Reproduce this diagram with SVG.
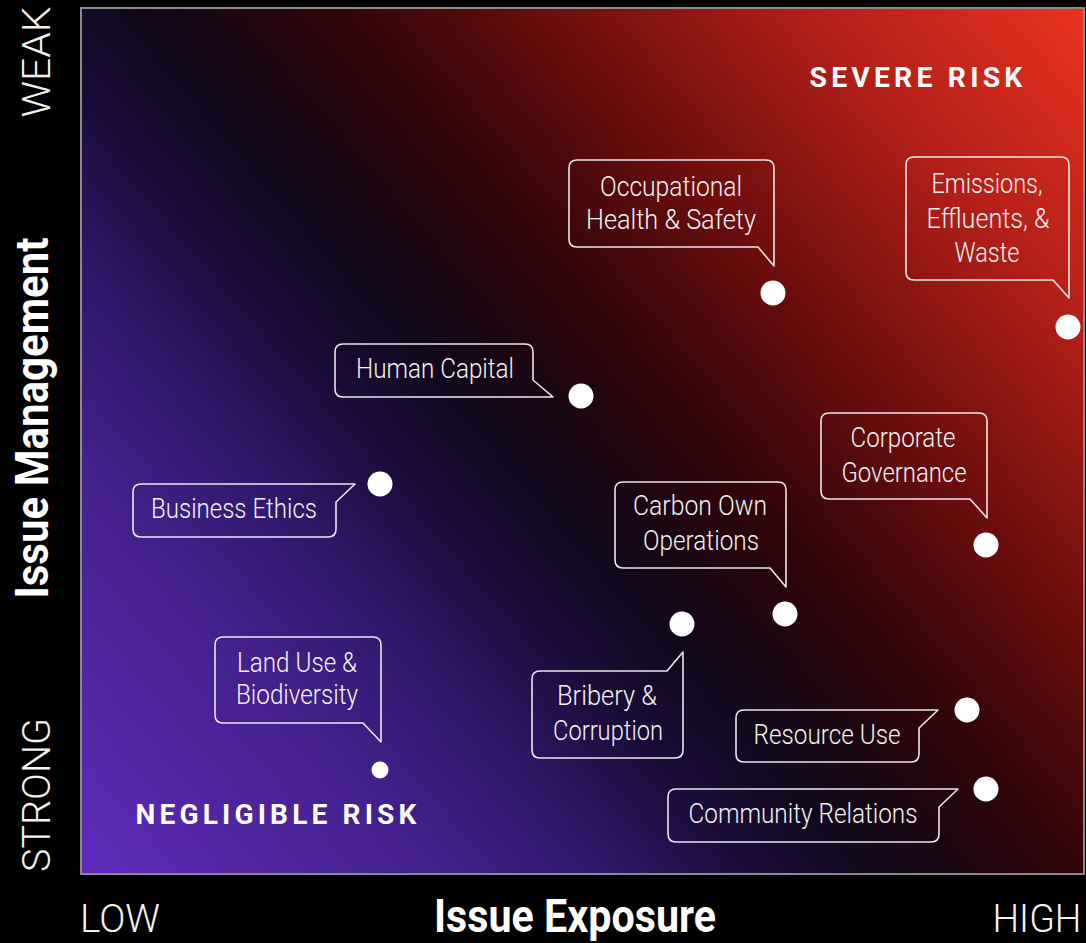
<svg xmlns="http://www.w3.org/2000/svg" width="1086" height="943" viewBox="0 0 1086 943">
<defs>
<linearGradient id="bg" gradientUnits="userSpaceOnUse" x1="81" y1="874" x2="1084" y2="8">
<stop offset="0" stop-color="#5f2bbb"/>
<stop offset="0.2" stop-color="#44208c"/>
<stop offset="0.3" stop-color="#30176a"/>
<stop offset="0.38" stop-color="#1c0c3a"/>
<stop offset="0.45" stop-color="#12081e"/>
<stop offset="0.5" stop-color="#1a0612"/>
<stop offset="0.57" stop-color="#300508"/>
<stop offset="0.68" stop-color="#660c0c"/>
<stop offset="0.84" stop-color="#b21f18"/>
<stop offset="1" stop-color="#ea3220"/>
</linearGradient>
<style>
.co{fill:none;stroke:#e8e8ec;stroke-width:1.6;stroke-linejoin:round}
.t{font-family:Roboto,"Liberation Sans",sans-serif;font-weight:300;font-size:28px;fill:#f2f2f2;text-anchor:middle}
.ax{font-family:Roboto,"Liberation Sans",sans-serif;font-weight:300;font-size:38px;fill:#f2f2f2;text-anchor:middle}
.bt{font-family:Roboto,"Liberation Sans",sans-serif;font-weight:700;font-size:46px;fill:#ffffff;text-anchor:middle}
.rk{font-family:Roboto,"Liberation Sans",sans-serif;font-weight:700;font-size:27px;letter-spacing:4px;fill:#ffffff;text-anchor:middle}
.dot{fill:#ffffff}
</style>
</defs>
<rect width="1086" height="943" fill="#000"/>
<rect id="plot" x="81" y="8" width="1003" height="866" fill="url(#bg)" stroke="#8a8a8a" stroke-width="2"/>

<g id="axes">
<text class="ax" transform="translate(50,62) rotate(-90)" textLength="111" lengthAdjust="spacingAndGlyphs">WEAK</text>
<text class="ax" transform="translate(50,795) rotate(-90)" textLength="154" lengthAdjust="spacingAndGlyphs">STRONG</text>
<text class="bt" transform="translate(48,418) rotate(-90)" textLength="361" lengthAdjust="spacingAndGlyphs">Issue Management</text>
<text class="ax" x="120" y="932" textLength="80" lengthAdjust="spacingAndGlyphs">LOW</text>
<text class="ax" x="1037" y="932" textLength="89" lengthAdjust="spacingAndGlyphs">HIGH</text>
<text class="bt" x="575" y="932" textLength="282" lengthAdjust="spacingAndGlyphs">Issue Exposure</text>
<text class="rk" x="918" y="87" textLength="217" lengthAdjust="spacingAndGlyphs">SEVERE RISK</text>
<text class="rk" x="278" y="824" textLength="285" lengthAdjust="spacingAndGlyphs">NEGLIGIBLE RISK</text>
</g>

<g id="connectors">
<path class="co" d="M577,160 H766 Q774,160 774,168 V266 L758,247 H577 Q569,247 569,239 V168 Q569,160 577,160 Z"/>
<path class="co" d="M914,157 H1061 Q1069,157 1069,165 V298 L1053,280 H914 Q906,280 906,272 V165 Q906,157 914,157 Z"/>
<path class="co" d="M343,344 H525 Q533,344 533,352 V380 L553,397 H343 Q335,397 335,389 V352 Q335,344 343,344 Z"/>
<path class="co" d="M141,484 H355 L336,502 V529 Q336,537 328,537 H141 Q133,537 133,529 V492 Q133,484 141,484 Z"/>
<path class="co" d="M223,637 H373 Q381,637 381,645 V742 L363,723 H223 Q215,723 215,715 V645 Q215,637 223,637 Z"/>
<path class="co" d="M623,482 H778 Q786,482 786,490 V587 L770,568 H623 Q615,568 615,560 V490 Q615,482 623,482 Z"/>
<path class="co" d="M829,413 H979 Q987,413 987,421 V518 L970,499 H829 Q821,499 821,491 V421 Q821,413 829,413 Z"/>
<path class="co" d="M540,671 H667 L683,652 V750 Q683,758 675,758 H540 Q532,758 532,750 V679 Q532,671 540,671 Z"/>
<path class="co" d="M744,710 H938 L919,728 V754 Q919,762 911,762 H744 Q736,762 736,754 V718 Q736,710 744,710 Z"/>
<path class="co" d="M676,789 H958 L939,807 V834 Q939,842 931,842 H676 Q668,842 668,834 V797 Q668,789 676,789 Z"/>
</g>

<g id="occupational">
<text class="t" x="671" y="196" textLength="142" lengthAdjust="spacingAndGlyphs">Occupational</text>
<text class="t" x="671" y="229" textLength="170" lengthAdjust="spacingAndGlyphs">Health &amp; Safety</text>
<circle class="dot" cx="773" cy="293" r="12.5"/>
</g>
<g id="emissions">
<text class="t" x="987" y="193" textLength="111" lengthAdjust="spacingAndGlyphs">Emissions,</text>
<text class="t" x="988" y="228" textLength="123" lengthAdjust="spacingAndGlyphs">Effluents, &amp;</text>
<text class="t" x="987" y="262" textLength="65" lengthAdjust="spacingAndGlyphs">Waste</text>
<circle class="dot" cx="1068" cy="327" r="12.5"/>
</g>
<g id="human-capital">
<text class="t" x="435" y="378" textLength="158" lengthAdjust="spacingAndGlyphs">Human Capital</text>
<circle class="dot" cx="581" cy="396" r="12.5"/>
</g>
<g id="business-ethics">
<text class="t" x="234" y="518" textLength="166" lengthAdjust="spacingAndGlyphs">Business Ethics</text>
<circle class="dot" cx="380" cy="484" r="12.5"/>
</g>
<g id="land-use">
<text class="t" x="297" y="672" textLength="120" lengthAdjust="spacingAndGlyphs">Land Use &amp;</text>
<text class="t" x="297" y="704" textLength="122" lengthAdjust="spacingAndGlyphs">Biodiversity</text>
<circle class="dot" cx="380" cy="770" r="8.5"/>
</g>
<g id="carbon">
<text class="t" x="700" y="515" textLength="134" lengthAdjust="spacingAndGlyphs">Carbon Own</text>
<text class="t" x="701" y="550" textLength="116" lengthAdjust="spacingAndGlyphs">Operations</text>
<circle class="dot" cx="785" cy="614" r="12.5"/>
</g>
<g id="corporate">
<text class="t" x="903" y="447" textLength="105" lengthAdjust="spacingAndGlyphs">Corporate</text>
<text class="t" x="904" y="482" textLength="125" lengthAdjust="spacingAndGlyphs">Governance</text>
<circle class="dot" cx="986" cy="545" r="12.5"/>
</g>
<g id="bribery">
<text class="t" x="607" y="705" textLength="100" lengthAdjust="spacingAndGlyphs">Bribery &amp;</text>
<text class="t" x="608" y="740" textLength="110" lengthAdjust="spacingAndGlyphs">Corruption</text>
<circle class="dot" cx="682" cy="624" r="12.5"/>
</g>
<g id="resource-use">
<text class="t" x="827" y="744" textLength="147" lengthAdjust="spacingAndGlyphs">Resource Use</text>
<circle class="dot" cx="967" cy="710" r="12.5"/>
</g>
<g id="community">
<text class="t" x="803" y="823" textLength="229" lengthAdjust="spacingAndGlyphs">Community Relations</text>
<circle class="dot" cx="986" cy="789" r="12.5"/>
</g>
</svg>
